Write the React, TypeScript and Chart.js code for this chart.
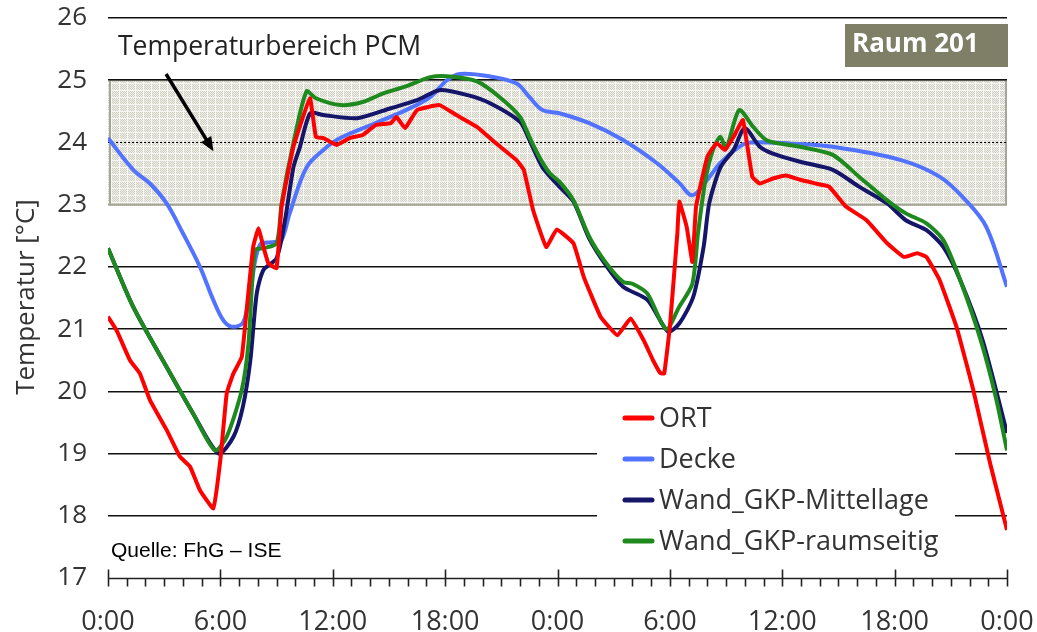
import React, { useEffect, useRef } from "react";
import { Chart, registerables } from "chart.js";
Chart.register(...registerables);

const xTickLabels = ["0:00", "6:00", "12:00", "18:00", "0:00", "6:00", "12:00", "18:00", "0:00"];
const seriesLabels = ["ORT", "Decke", "Wand_GKP-Mittellage", "Wand_GKP-raumseitig"];
const seriesColors = ["#ff0000", "#5273ff", "#15156a", "#1e8a1e"];
const pcmRange = [23, 25];

const ortHours = [0, 0.46, 1.17, 1.7, 2.24, 3.13, 3.84, 4.38, 4.91, 5.62, 6.0, 6.34, 6.7, 7.14, 7.4, 7.75, 8.03, 8.3, 8.56, 9.0, 9.27, 9.9, 10.78, 11.1, 11.5, 12.2, 12.9, 13.6, 14.3, 15.1, 15.4, 15.86, 16.5, 17.7, 18.6, 19.7, 20.7, 21.8, 22.2, 22.7, 23.4, 23.96, 24.85, 25.4, 26.3, 27.2, 27.9, 28.6, 29.1, 29.5, 29.7, 30.0, 30.4, 30.5, 30.9, 31.2, 31.4, 32.0, 32.5, 32.94, 33.4, 33.9, 34.4, 34.8, 35.5, 36.2, 36.95, 37.8, 38.5, 39.4, 40.5, 41.6, 42.5, 43.2, 43.7, 44.4, 45.3, 46.2, 47.1, 48];
const ortTemps = [21.2, 20.98, 20.5, 20.29, 19.86, 19.38, 18.95, 18.79, 18.41, 18.12, 18.9, 19.97, 20.29, 20.55, 21.3, 22.32, 22.62, 22.32, 22.06, 21.98, 22.97, 23.93, 24.71, 24.09, 24.07, 23.96, 24.07, 24.12, 24.28, 24.31, 24.41, 24.23, 24.52, 24.6, 24.44, 24.25, 23.99, 23.72, 23.56, 22.91, 22.32, 22.6, 22.38, 21.84, 21.2, 20.9, 21.17, 20.82, 20.5, 20.29, 20.29, 21.04, 22.54, 23.05, 22.64, 22.08, 22.97, 23.77, 23.99, 23.88, 24.09, 24.36, 23.45, 23.34, 23.42, 23.47, 23.4, 23.34, 23.29, 22.97, 22.75, 22.38, 22.16, 22.22, 22.16, 21.79, 21.04, 20.02, 18.84, 17.77];

const deckeHours = [0, 1.35, 2.24, 3.13, 4.0, 4.91, 5.62, 6.16, 6.6, 7.2, 7.58, 8.1, 8.9, 9.27, 9.7, 10.6, 11.5, 12.4, 14.2, 15.9, 17.2, 18.1, 18.8, 20.4, 21.8, 22.5, 23.2, 24.1, 25.7, 27.5, 29.3, 30.5, 31.2, 32.0, 32.7, 33.7, 34.3, 36.5, 38.7, 42.3, 44.4, 45.8, 46.9, 48];
const deckeTemps = [24.07, 23.56, 23.34, 23.02, 22.54, 22.0, 21.47, 21.14, 21.04, 21.1, 21.57, 22.35, 22.4, 22.43, 22.86, 23.6, 23.88, 24.07, 24.3, 24.52, 24.73, 25.0, 25.1, 25.06, 24.95, 24.73, 24.52, 24.47, 24.31, 24.04, 23.67, 23.35, 23.15, 23.4, 23.67, 23.93, 24.0, 23.98, 23.93, 23.72, 23.45, 23.07, 22.64, 21.68];

const mittelHours = [0, 1.34, 3.13, 4.55, 5.9, 6.7, 7.2, 7.6, 7.94, 8.3, 9.0, 9.45, 9.9, 10.25, 10.8, 11.5, 13.3, 15.1, 16.5, 17.7, 19.2, 20.4, 22.0, 22.5, 23.2, 24.1, 24.85, 25.7, 26.6, 27.5, 28.8, 29.9, 30.5, 31.25, 31.8, 32.1, 32.7, 33.4, 34.0, 34.8, 35.5, 36.95, 38.7, 40.1, 41.6, 42.6, 43.7, 44.6, 45.5, 46.7, 48];
const mittelTemps = [22.3, 21.36, 20.39, 19.64, 19.0, 19.27, 19.75, 20.5, 21.57, 21.95, 22.14, 22.75, 23.6, 23.93, 24.47, 24.44, 24.39, 24.55, 24.68, 24.84, 24.76, 24.63, 24.33, 24.04, 23.6, 23.29, 23.05, 22.45, 22.02, 21.68, 21.47, 20.96, 21.09, 21.52, 22.32, 23.02, 23.6, 23.88, 24.23, 23.93, 23.82, 23.69, 23.56, 23.29, 23.02, 22.75, 22.59, 22.32, 21.79, 20.82, 19.33];

const raumHours = [0, 1.34, 3.13, 4.55, 5.71, 6.34, 7.14, 7.5, 7.85, 8.3, 9.0, 9.27, 9.9, 10.6, 11.1, 12.4, 13.6, 14.7, 15.9, 17.2, 18.3, 19.7, 20.9, 22.0, 22.5, 23.06, 23.6, 24.1, 24.85, 25.7, 26.6, 27.5, 28.0, 28.8, 29.8, 30.5, 31.2, 31.5, 31.9, 32.3, 32.7, 33.0, 33.7, 34.45, 35.2, 36.95, 38.7, 40.1, 41.6, 42.6, 43.7, 44.6, 45.5, 46.6, 47.4, 48];
const raumTemps = [22.3, 21.36, 20.39, 19.64, 19.05, 19.27, 20.02, 20.77, 22.27, 22.3, 22.38, 23.02, 23.99, 24.82, 24.71, 24.6, 24.65, 24.79, 24.9, 25.05, 25.06, 24.98, 24.73, 24.41, 24.09, 23.75, 23.5, 23.37, 23.07, 22.48, 22.06, 21.76, 21.73, 21.57, 21.0, 21.36, 21.73, 22.54, 23.4, 23.88, 24.09, 23.9, 24.52, 24.25, 24.03, 23.93, 23.8, 23.45, 23.07, 22.86, 22.7, 22.43, 21.79, 20.82, 19.91, 19.05];

const FONT = "'Open Sans', sans-serif";

function toPoints(h: number[], t: number[]) {
  return h.map((x, i) => ({ x, y: t[i] }));
}

function makePattern(ctx: CanvasRenderingContext2D) {
  const c = document.createElement("canvas");
  c.width = 8;
  c.height = 7;
  const g = c.getContext("2d")!;
  for (let i = 0; i < 8; i++) {
    for (let j = 0; j < 7; j++) {
      let col;
      if (i === 7 || j === 6) col = "#f6f6f3";
      else col = (i + j) % 2 === 0 ? "#cfcfc3" : "#efefe8";
      g.fillStyle = col;
      g.fillRect(i, j, 1, 1);
    }
  }
  return ctx.createPattern(c, "repeat");
}

export default function App() {
  const ref = useRef<HTMLCanvasElement>(null);
  useEffect(() => {
    const canvas = ref.current!;
    const ctx0 = canvas.getContext("2d")!;
    const pattern = makePattern(ctx0);

    const decor = {
      id: "decor",
      beforeDraw(chart: any) {
        const { ctx, chartArea: a, scales } = chart;
        const y = scales.y;
        ctx.save();
        ctx.fillStyle = "#ffffff";
        ctx.fillRect(0, 0, chart.width, chart.height);
        const yTop = y.getPixelForValue(pcmRange[1]);
        const yBot = y.getPixelForValue(pcmRange[0]);
        ctx.fillStyle = pattern;
        ctx.fillRect(a.left, yTop, a.right - a.left, yBot - yTop);
        ctx.strokeStyle = "#a6a696";
        ctx.lineWidth = 2;
        ctx.strokeRect(a.left + 2, yTop, a.right - a.left - 3, yBot - yTop);
        ctx.restore();
      },
      beforeDatasetsDraw(chart: any) {
        const { ctx, chartArea: a, scales } = chart;
        const x = scales.x;
        const y = scales.y;
        ctx.save();
        const ym = Math.round(y.getPixelForValue((pcmRange[0] + pcmRange[1]) / 2)) + 0.5;
        ctx.strokeStyle = "#000";
        ctx.lineWidth = 1;
        ctx.setLineDash([2, 2]);
        ctx.beginPath();
        ctx.moveTo(a.left, ym);
        ctx.lineTo(a.right, ym);
        ctx.stroke();
        ctx.setLineDash([]);
        const yb = Math.round(a.bottom) + 0.5;
        ctx.lineWidth = 1.6;
        ctx.strokeStyle = "#222";
        ctx.beginPath();
        ctx.moveTo(a.left, yb);
        ctx.lineTo(a.right, yb);
        ctx.stroke();
        for (let h = x.min; h <= x.max; h++) {
          const px = Math.round(x.getPixelForValue(h)) + 0.5;
          const major = h % 6 === 0;
          ctx.beginPath();
          ctx.moveTo(px, major ? yb - 9 : yb);
          ctx.lineTo(px, yb + 8);
          ctx.stroke();
        }
        ctx.restore();
      },
      afterDatasetsDraw(chart: any) {
        const { ctx } = chart;
        ctx.save();
        ctx.fillStyle = "#ffffff";
        ctx.fillRect(597, 397, 358, 166);
        const rows = [418, 459, 500, 541];
        chart.data.datasets.forEach((ds: any, i: number) => {
          const yy = rows[i];
          ctx.strokeStyle = ds.borderColor;
          ctx.lineWidth = 5;
          ctx.lineCap = "round";
          ctx.beginPath();
          ctx.moveTo(625, yy);
          ctx.lineTo(652, yy);
          ctx.stroke();
          ctx.fillStyle = "#333";
          ctx.font = `27px ${FONT}`;
          ctx.textBaseline = "middle";
          ctx.textAlign = "left";
          ctx.fillText(ds.label, 659, yy + 1);
        });
        ctx.restore();
      },
      afterDraw(chart: any) {
        const { ctx, chartArea: a, scales } = chart;
        const x = scales.x;
        const y = scales.y;
        ctx.save();
        ctx.translate(27, 297);
        ctx.rotate(-Math.PI / 2);
        ctx.fillStyle = "#333";
        ctx.font = `26px ${FONT}`;
        ctx.textAlign = "center";
        ctx.textBaseline = "middle";
        ctx.fillText("Temperatur [°C]", 0, 0);
        ctx.restore();

        ctx.save();
        ctx.fillStyle = "#222";
        ctx.font = `26.5px ${FONT}`;
        ctx.textAlign = "left";
        ctx.textBaseline = "alphabetic";
        ctx.fillText("Temperaturbereich PCM", a.left + 10, 55);

        const x1 = x.getPixelForValue(3.1), y1 = y.getPixelForValue(25.1);
        const x2 = x.getPixelForValue(5.63), y2 = y.getPixelForValue(23.86);
        const ang = Math.atan2(y2 - y1, x2 - x1);
        ctx.strokeStyle = "#000";
        ctx.fillStyle = "#000";
        ctx.lineWidth = 3.5;
        ctx.beginPath();
        ctx.moveTo(x1, y1);
        ctx.lineTo(x2 - 10 * Math.cos(ang), y2 - 10 * Math.sin(ang));
        ctx.stroke();
        ctx.beginPath();
        ctx.moveTo(x2, y2);
        ctx.lineTo(x2 - 14 * Math.cos(ang) + 6 * Math.sin(ang), y2 - 14 * Math.sin(ang) - 6 * Math.cos(ang));
        ctx.lineTo(x2 - 14 * Math.cos(ang) - 6 * Math.sin(ang), y2 - 14 * Math.sin(ang) + 6 * Math.cos(ang));
        ctx.closePath();
        ctx.fill();

        ctx.fillStyle = "#7f7f67";
        ctx.fillRect(845, 24, a.right + 1 - 845, 43);
        ctx.fillStyle = "#ffffff";
        ctx.font = `bold 26px ${FONT}`;
        ctx.textBaseline = "middle";
        ctx.fillText("Raum 201", 852, 45);

        ctx.fillStyle = "#000";
        ctx.font = "21px 'Liberation Sans', Arial, sans-serif";
        ctx.textBaseline = "alphabetic";
        ctx.fillText("Quelle: FhG – ISE", 111, 557);
        ctx.restore();
      },
    };

    const mk = (label: string, color: string, h: number[], t: number[], order: number, tension: number) => ({
      label,
      data: toPoints(h, t),
      borderColor: color,
      backgroundColor: color,
      borderWidth: 4,
      pointRadius: 0,
      tension,
      order,
      fill: false,
    });

    const chart = new Chart(canvas, {
      type: "line",
      data: {
        datasets: [
          mk(seriesLabels[0], seriesColors[0], ortHours, ortTemps, 0, 0.1),
          mk(seriesLabels[1], seriesColors[1], deckeHours, deckeTemps, 3, 0.35),
          mk(seriesLabels[2], seriesColors[2], mittelHours, mittelTemps, 2, 0.25),
          mk(seriesLabels[3], seriesColors[3], raumHours, raumTemps, 1, 0.25),
        ],
      },
      options: {
        animation: false,
        responsive: false,
        layout: { padding: { left: 0, right: 30, top: 18, bottom: 0 } },
        plugins: { legend: { display: false }, tooltip: { enabled: false } },
        scales: {
          x: {
            type: "linear",
            min: 0,
            max: 48,
            grid: { display: false, drawTicks: false },
            border: { display: false },
            afterFit: (s: any) => {
              s.height = 54;
              s.paddingLeft = 0;
              s.paddingRight = 0;
            },
            ticks: {
              stepSize: 6,
              autoSkip: false,
              maxRotation: 0,
              padding: 28,
              color: "#333",
              font: { family: FONT, size: 27 },
              callback: (v: any) => xTickLabels[Math.round(Number(v) / 6)] ?? "",
            },
          },
          y: {
            min: 17,
            max: 26,
            afterFit: (s: any) => {
              s.width = 108;
              s.paddingTop = 0;
              s.paddingBottom = 0;
            },
            border: { display: false },
            grid: {
              drawTicks: false,
              lineWidth: 1.6,
              color: (c: any) => {
                const v = c.tick ? c.tick.value : 0;
                if (v === 17 || v === 24) return "rgba(0,0,0,0)";
                if (v === 23) return "#a6a696";
                return "#111";
              },
            },
            ticks: {
              stepSize: 1,
              padding: 21,
              color: "#333",
              font: { family: FONT, size: 26 },
            },
          },
        },
      },
      plugins: [decor],
    });
    return () => chart.destroy();
  }, []);

  return (
    <div style={{ position: "absolute", left: 0, top: 0, width: 1037, height: 632 }}>
      <canvas ref={ref} width={1037} height={632} style={{ display: "block" }} />
    </div>
  );
}
